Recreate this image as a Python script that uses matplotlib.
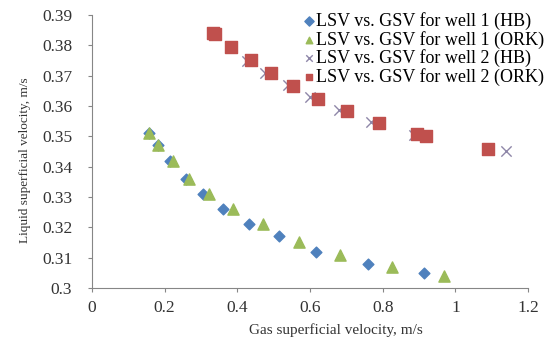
import matplotlib
matplotlib.use("Agg")
import matplotlib.pyplot as plt

plt.rcParams["font.family"] = ["Liberation Serif", "DejaVu Serif"]

# well 1, Hagedorn-Brown
gsv_w1_hb = [0.157, 0.181, 0.215, 0.259, 0.306, 0.361, 0.433, 0.515, 0.617, 0.761, 0.913]
lsv_w1_hb = [0.351, 0.347, 0.342, 0.336, 0.331, 0.326, 0.321, 0.317, 0.312, 0.308, 0.305]
# well 1, Orkiszewski
gsv_w1_ork = [0.157, 0.181, 0.222, 0.266, 0.323, 0.388, 0.472, 0.570, 0.683, 0.827, 0.969]
lsv_w1_ork = [0.351, 0.347, 0.342, 0.336, 0.331, 0.326, 0.321, 0.315, 0.311, 0.307, 0.304]
# well 2, Hagedorn-Brown
gsv_w2_hb = [0.330, 0.380, 0.426, 0.476, 0.540, 0.600, 0.681, 0.768, 0.887, 1.138]
lsv_w2_hb = [0.384, 0.3795, 0.375, 0.371, 0.3668, 0.363, 0.3587, 0.3548, 0.3506, 0.3452]
# well 2, Orkiszewski
gsv_w2_ork = [0.332, 0.339, 0.384, 0.437, 0.493, 0.554, 0.621, 0.701, 0.790, 0.895, 0.919, 1.089]
lsv_w2_ork = [0.384, 0.3837, 0.3794, 0.3751, 0.3708, 0.3665, 0.3624, 0.3583, 0.3545, 0.3507, 0.3502, 0.346]

fig = plt.figure(figsize=(5.53, 3.44), dpi=100)
ax = fig.add_axes([0.166, 0.163, 0.789, 0.793])

ax.scatter(gsv_w1_hb, lsv_w1_hb, marker="D", s=30, color="#4F81BD",
           label="LSV vs. GSV for well 1 (HB)", zorder=3)
ax.scatter(gsv_w1_ork, lsv_w1_ork, marker="^", s=65, color="#9BBB59",
           label="LSV vs. GSV for well 1 (ORK)", zorder=3)
ax.scatter(gsv_w2_hb, lsv_w2_hb, marker="x", s=55, color="#8E86A8", linewidths=1.0,
           label="LSV vs. GSV for well 2 (HB)", zorder=3)
ax.scatter(gsv_w2_ork, lsv_w2_ork, marker="s", s=72, color="#C0504D",
           label="LSV vs. GSV for well 2 (ORK)", zorder=4)

ax.set_xlim(0, 1.2)
ax.set_ylim(0.3, 0.39)
ax.set_xticks([0, 0.2, 0.4, 0.6, 0.8, 1.0, 1.2])
ax.set_xticklabels(["0", "0.2", "0.4", "0.6", "0.8", "1", "1.2"])
ax.set_yticks([0.3, 0.31, 0.32, 0.33, 0.34, 0.35, 0.36, 0.37, 0.38, 0.39])
ax.set_yticklabels(["0.3", "0.31", "0.32", "0.33", "0.34", "0.35", "0.36", "0.37", "0.38", "0.39"])

for side in ["top", "right"]:
    ax.spines[side].set_visible(False)
for side in ["left", "bottom"]:
    ax.spines[side].set_color("#868686")
ax.tick_params(colors="#868686", labelcolor="#333333", labelsize=12.5, length=3, width=0.8)
ax.tick_params(axis="y", pad=11)
ax.tick_params(axis="x", pad=6)

ax.set_xlabel("Gas superficial velocity, m/s", fontsize=11, color="#333333")
ax.xaxis.set_label_coords(0.56, -0.13)
ax.set_ylabel("Liquid superficial velocity, m/s", fontsize=9.5, color="#333333")
ax.yaxis.set_label_coords(-0.14, 0.47)

leg = ax.legend(loc="upper left", bbox_to_anchor=(0.465, 1.037), frameon=False, fontsize=13,
                handletextpad=0.0, labelspacing=0.03, borderaxespad=0, handlelength=0.8,
                scatterpoints=1)
for h in leg.legend_handles:
    h.set_sizes([22])

fig.savefig("out.png", dpi=100)
